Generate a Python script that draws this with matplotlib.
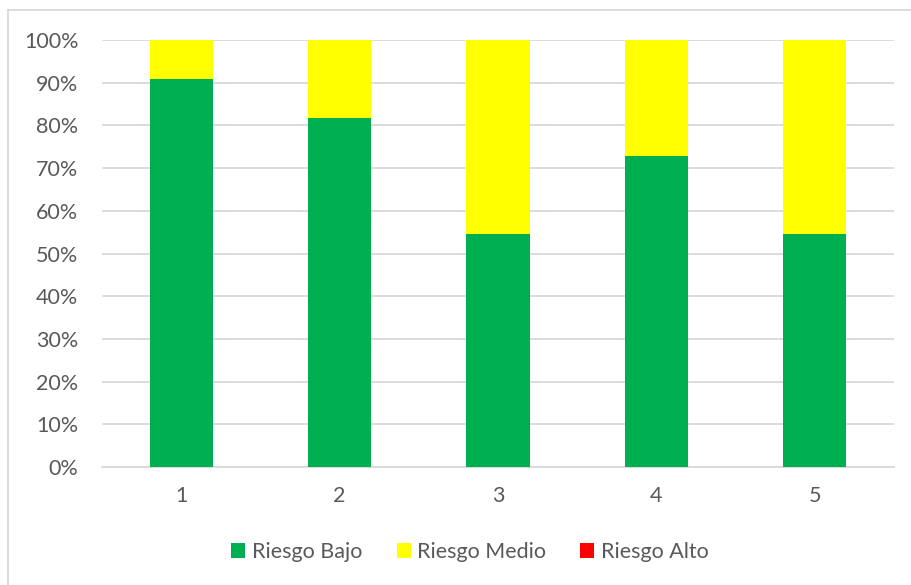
import matplotlib
matplotlib.use("Agg")
import matplotlib.pyplot as plt
from matplotlib.lines import Line2D
from matplotlib.patches import Patch
import numpy as np

categories = ["1", "2", "3", "4", "5"]
riesgo_bajo = [10/11, 9/11, 6/11, 8/11, 6/11]
riesgo_medio = [1/11, 2/11, 5/11, 3/11, 5/11]
riesgo_alto = [0, 0, 0, 0, 0]
series_names = ["Riesgo Bajo", "Riesgo Medio", "Riesgo Alto"]
colors = ["#00B050", "#FFFF00", "#FF0000"]
yticks = [0, 0.1, 0.2, 0.3, 0.4, 0.5, 0.6, 0.7, 0.8, 0.9, 1.0]

plt.rcParams["font.family"] = ["Lato", "DejaVu Sans"]
text_color = "#595959"

W, H = 912, 585
fig = plt.figure(figsize=(W / 100, H / 100), dpi=100)
ax = fig.add_axes([102 / W, 1 - 467 / H, (894 - 102) / W, (467 - 40) / H])

x = np.arange(len(categories))
bottom = np.zeros(len(categories))
for vals, col in zip([riesgo_bajo, riesgo_medio, riesgo_alto], colors):
    vals = np.array(vals)
    ax.bar(x, vals, 0.4, bottom=bottom, color=col, zorder=3)
    bottom += vals

ax.set_xlim(-0.5, len(categories) - 0.5)
ax.set_ylim(0, 1)
ax.set_yticks(yticks)
ax.set_yticklabels([f"{int(round(t * 100))}%" for t in yticks])
ax.set_xticks(x)
ax.set_xticklabels(categories)
ax.yaxis.grid(True, color="#D9D9D9", linewidth=1.3, zorder=0)
for s in ["top", "right", "left"]:
    ax.spines[s].set_visible(False)
ax.spines["bottom"].set_color("#D9D9D9")
ax.spines["bottom"].set_linewidth(1.3)
ax.tick_params(axis="both", length=0, labelsize=15.5, colors=text_color)
ax.tick_params(axis="y", pad=17)
ax.tick_params(axis="x", pad=14)

handles = [Patch(facecolor=c, edgecolor="none") for c in colors]
fig.legend(handles, series_names, loc="center", bbox_to_anchor=(470 / W, 1 - 552 / H),
           ncol=3, frameon=False, fontsize=15.5, labelcolor=text_color,
           handlelength=0.65, handleheight=0.65, handletextpad=0.3, columnspacing=1.6)

# outer chart border (top and left edges)
fig.add_artist(Line2D([8 / W, 1], [1 - 10 / H, 1 - 10 / H], color="#D9D9D9", lw=1.3,
                      transform=fig.transFigure))
fig.add_artist(Line2D([8 / W, 8 / W], [0, 1 - 10 / H], color="#D9D9D9", lw=1.3,
                      transform=fig.transFigure))

fig.savefig("out.png", dpi=100)
